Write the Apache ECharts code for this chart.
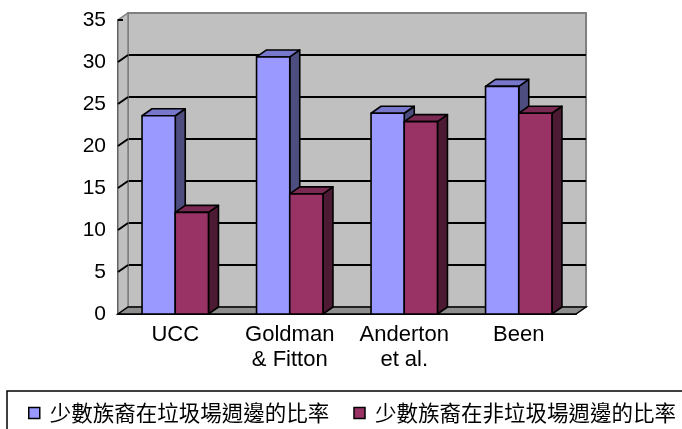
<!DOCTYPE html>
<html><head><meta charset="utf-8">
<script src="https://cdn.jsdelivr.net/npm/echarts@6/dist/echarts.min.js"></script>
<style>html,body{margin:0;padding:0;background:#fff}#c{width:682px;height:429px}</style>
</head><body><div id="c"></div>
<script>
const categories = ['UCC', 'Goldman\n& Fitton', 'Anderton\net al.', 'Been'];
const seriesNames = ['少數族裔在垃圾場週邊的比率', '少數族裔在非垃圾場週邊的比率'];
const nearLandfill = [23.6, 30.6, 23.9, 27.1];
const awayLandfill = [12.1, 14.3, 22.9, 23.9];
const yTicks = [0, 5, 10, 15, 20, 25, 30, 35];

const DX = 10, DY = -7;
const FRONT = {left: 118, right: 106, top: 20, bottom: 115};
const LATIN = 'Liberation Sans, Arial, sans-serif';
const CJK = 'Noto Sans CJK TC, sans-serif';
const yMin = yTicks[0], yMax = yTicks[yTicks.length - 1], yStep = yTicks[1] - yTicks[0];

const palette = [
  {front: '#9999FF', top: '#7777CC', side: '#4D4D80'},
  {front: '#993366', top: '#7A2952', side: '#4D1A33'}
];

function barRender(col, sideSign) {
  return function (params, api) {
    const cat = api.value(0), v = api.value(1);
    const base = api.coord([cat, 0]);
    const top = api.coord([cat, v]);
    const band = api.size([1, 0])[0];
    const bw = band * 0.29;
    const xL = sideSign < 0 ? base[0] - bw : base[0];
    const xR = xL + bw;
    const yT = top[1], yB = base[1];
    const st = (f) => ({fill: f, stroke: '#000', lineWidth: 1.6, lineJoin: 'round'});
    return {
      type: 'group',
      children: [
        {type: 'polygon', shape: {points: [[xR, yT], [xR, yB], [xR + DX, yB + DY], [xR + DX, yT + DY]]}, style: st(col.side)},
        {type: 'polygon', shape: {points: [[xL, yT], [xR, yT], [xR + DX, yT + DY], [xL + DX, yT + DY]]}, style: st(col.top)},
        {type: 'rect', shape: {x: xL, y: yT, width: bw, height: yB - yT}, style: st(col.front)}
      ]
    };
  };
}

function frameRender(params, api) {
  const band = api.size([1, 0])[0];
  const x0 = api.coord([0, yMin])[0] - band / 2;
  const x1 = api.coord([categories.length - 1, yMin])[0] + band / 2;
  const y0 = api.coord([0, yMin])[1];
  const yTop = api.coord([0, yMax])[1];
  const kids = [
    {type: 'polygon', shape: {points: [[x0, y0], [x0, yTop], [x0 + DX, yTop + DY], [x0 + DX, y0 + DY]]},
     style: {fill: '#C0C0C0', stroke: '#808080', lineWidth: 1.5}},
    {type: 'polygon', shape: {points: [[x0, y0], [x1, y0], [x1 + DX, y0 + DY], [x0 + DX, y0 + DY]]},
     style: {fill: '#8E8E8E', stroke: '#000', lineWidth: 1.5}}
  ];
  yTicks.forEach(t => {
    if (t === yMin || t === yMax) return;
    const y = api.coord([0, t])[1];
    kids.push({type: 'line', shape: {x1: x0, y1: y, x2: x0 + DX, y2: y + DY}, style: {stroke: '#000', lineWidth: 2}});
  });
  kids.push({type: 'line', shape: {x1: x0, y1: yTop, x2: x0 + 5, y2: yTop}, style: {stroke: '#000', lineWidth: 2}});
  return {type: 'group', children: kids};
}

const chart = echarts.init(document.getElementById('c'), null, {renderer: 'canvas'});
chart.setOption({
  animation: false,
  backgroundColor: '#fff',
  grid: [
    {left: FRONT.left, right: FRONT.right, top: FRONT.top, bottom: FRONT.bottom},
    {left: FRONT.left + DX, right: FRONT.right - DX, top: FRONT.top + DY, bottom: FRONT.bottom - DY,
     show: true, backgroundColor: '#C0C0C0', borderColor: '#808080', borderWidth: 2}
  ],
  xAxis: [
    {type: 'category', gridIndex: 0, data: categories,
     axisLine: {show: true, lineStyle: {color: '#000', width: 2}},
     axisTick: {show: true, inside: true, length: 6, lineStyle: {color: '#000', width: 1.5}},
     axisLabel: {color: '#000', fontSize: 22, fontFamily: LATIN, margin: 8, lineHeight: 25, interval: 0}},
    {type: 'category', gridIndex: 1, data: categories, show: false}
  ],
  yAxis: [
    {type: 'value', gridIndex: 0, min: yMin, max: yMax, interval: yStep,
     axisLine: {show: true, lineStyle: {color: '#000', width: 2}},
     axisTick: {show: false}, splitLine: {show: false},
     axisLabel: {color: '#000', fontSize: 21, fontFamily: LATIN, margin: 12}},
    {type: 'value', gridIndex: 1, min: yMin, max: yMax, interval: yStep,
     axisLine: {show: false}, axisTick: {show: false}, axisLabel: {show: false},
     splitLine: {show: true, showMinLine: false, showMaxLine: false, lineStyle: {color: '#000', width: 2}}}
  ],
  legend: {
    left: 28, top: 401, padding: 0, icon: 'rect', itemWidth: 11, itemHeight: 11, itemGap: 24,
    textStyle: {color: '#000', fontSize: 21.5, fontFamily: CJK, lineHeight: 24, padding: [0, 0, 0, 5]},
    data: seriesNames.map(n => ({name: n, itemStyle: {borderColor: '#000', borderWidth: 1.5}}))
  },
  graphic: [
    {type: 'rect', shape: {x: 7, y: 391, width: 720, height: 80}, style: {fill: 'none', stroke: '#000', lineWidth: 1.5}, silent: true}
  ],
  series: [
    {type: 'custom', name: 'frame', xAxisIndex: 0, yAxisIndex: 0, renderItem: frameRender,
     data: [[0, 0]], encode: {x: 0, y: 1}, z: 1, silent: true, clip: false},
    {type: 'custom', name: seriesNames[0], xAxisIndex: 0, yAxisIndex: 0,
     renderItem: barRender(palette[0], -1), itemStyle: {color: palette[0].front},
     data: nearLandfill.map((v, i) => [i, v]), encode: {x: 0, y: 1}, z: 3, clip: false},
    {type: 'custom', name: seriesNames[1], xAxisIndex: 0, yAxisIndex: 0,
     renderItem: barRender(palette[1], 1), itemStyle: {color: palette[1].front},
     data: awayLandfill.map((v, i) => [i, v]), encode: {x: 0, y: 1}, z: 4, clip: false}
  ]
});
</script></body></html>
